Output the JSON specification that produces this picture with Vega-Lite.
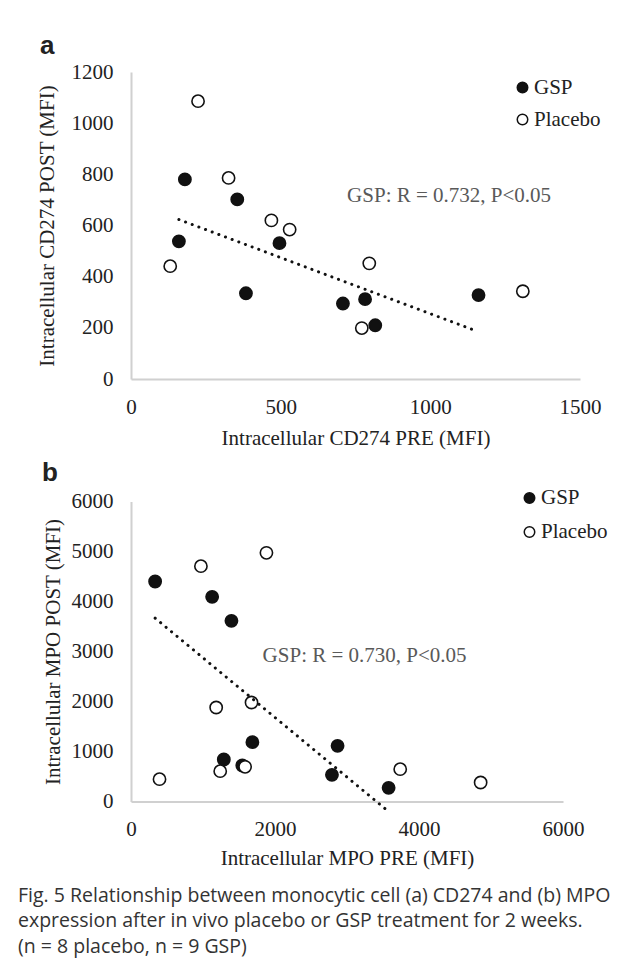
{
  "$schema": "https://vega.github.io/schema/vega-lite/v6.json",
  "background": "white",
  "padding": {"left": 18, "top": 32, "right": 0, "bottom": 10},
  "autosize": {"type": "pad"},
  "datasets": {
    "cd274": [
      {"group": "GSP", "pre": 180, "post": 780},
      {"group": "GSP", "pre": 355, "post": 702},
      {"group": "GSP", "pre": 160, "post": 538},
      {"group": "GSP", "pre": 496, "post": 531},
      {"group": "GSP", "pre": 384, "post": 335},
      {"group": "GSP", "pre": 708, "post": 295},
      {"group": "GSP", "pre": 782, "post": 312},
      {"group": "GSP", "pre": 816, "post": 210},
      {"group": "GSP", "pre": 1161, "post": 328},
      {"group": "Placebo", "pre": 224, "post": 1086},
      {"group": "Placebo", "pre": 326, "post": 786},
      {"group": "Placebo", "pre": 469, "post": 620},
      {"group": "Placebo", "pre": 530, "post": 584},
      {"group": "Placebo", "pre": 131, "post": 441},
      {"group": "Placebo", "pre": 796, "post": 452},
      {"group": "Placebo", "pre": 771, "post": 199},
      {"group": "Placebo", "pre": 1309, "post": 343}
    ],
    "mpo": [
      {"group": "GSP", "pre": 335, "post": 4400},
      {"group": "GSP", "pre": 1127, "post": 4093},
      {"group": "GSP", "pre": 1395, "post": 3613},
      {"group": "GSP", "pre": 1686, "post": 1187},
      {"group": "GSP", "pre": 1289, "post": 840},
      {"group": "GSP", "pre": 1546, "post": 720},
      {"group": "GSP", "pre": 2869, "post": 1113},
      {"group": "GSP", "pre": 2791, "post": 533},
      {"group": "GSP", "pre": 3578, "post": 273},
      {"group": "Placebo", "pre": 971, "post": 4707},
      {"group": "Placebo", "pre": 1881, "post": 4973},
      {"group": "Placebo", "pre": 1183, "post": 1880},
      {"group": "Placebo", "pre": 1674, "post": 1980},
      {"group": "Placebo", "pre": 396, "post": 447},
      {"group": "Placebo", "pre": 1239, "post": 607},
      {"group": "Placebo", "pre": 1585, "post": 693},
      {"group": "Placebo", "pre": 3739, "post": 647},
      {"group": "Placebo", "pre": 4856, "post": 380}
    ]
  },
  "config": {
    "view": {"stroke": null},
    "axis": {
      "domainColor": "#d0d0d0", "domainWidth": 2, "ticks": false, "grid": false,
      "labelFont": "Liberation Serif", "labelFontSize": 21, "labelColor": "#222",
      "titleFont": "Liberation Serif", "titleFontSize": 21, "titleFontWeight": "normal", "titleColor": "#222",
      "labelFlush": false, "labelOverlap": false, "format": "d"
    },
    "legend": {
      "labelFont": "Liberation Serif", "labelFontSize": 21, "labelColor": "#222",
      "symbolType": "circle", "symbolSize": 110, "symbolStrokeColor": "#111", "symbolStrokeWidth": 1.5,
      "symbolOpacity": 1, "labelOffset": 1
    }
  },
  "title": {
    "text": [
      "Fig. 5 Relationship between monocytic cell (a) CD274 and (b) MPO",
      "expression after in vivo placebo or GSP treatment for 2 weeks.",
      "(n = 8 placebo, n = 9 GSP)"
    ],
    "orient": "bottom", "anchor": "start", "frame": "bounds",
    "font": "Open Sans", "fontSize": 19.5, "fontWeight": "normal", "color": "#333",
    "lineHeight": 25.5, "offset": 18, "dx": -18
  },
  "resolve": {"scale": {"fill": "independent"}, "legend": {"fill": "independent"}},
  "spacing": 11.5,
  "vconcat": [
    {
      "width": 449, "height": 307,
      "title": {"text": "a", "anchor": "start", "frame": "bounds", "font": "Liberation Sans", "fontSize": 26, "fontWeight": "bold", "color": "#222", "offset": 2.5, "dx": 4},
      "data": {"name": "cd274"},
      "layer": [
        {
          "mark": {"type": "circle", "size": 150, "stroke": "#111", "strokeWidth": 1.6, "opacity": 1},
          "encoding": {
            "x": {"field": "pre", "type": "quantitative", "scale": {"domain": [0, 1500], "nice": false},
              "axis": {"values": [0, 500, 1000, 1500], "title": "Intracellular CD274 PRE (MFI)", "labelPadding": 17, "titlePadding": 10}},
            "y": {"field": "post", "type": "quantitative", "scale": {"domain": [0, 1200], "nice": false},
              "axis": {"values": [0, 200, 400, 600, 800, 1000, 1200], "title": "Intracellular CD274  POST (MFI)", "labelPadding": 18, "titlePadding": 14}},
            "fill": {"field": "group", "type": "nominal", "scale": {"domain": ["GSP", "Placebo"], "range": ["#111111", "#ffffff"]},
              "legend": {"title": null, "orient": "none", "legendX": 381, "legendY": 5, "rowPadding": 10}}
          }
        },
        {
          "transform": [{"filter": "datum.group === 'GSP'"}, {"regression": "post", "on": "pre", "extent": [160, 1140]}],
          "mark": {"type": "line", "stroke": "#111", "strokeWidth": 3, "strokeDash": [0.1, 7], "strokeCap": "round"},
          "encoding": {
            "x": {"field": "pre", "type": "quantitative"},
            "y": {"field": "post", "type": "quantitative"}
          }
        },
        {
          "data": {"values": [{"pre": 722, "post": 715, "label": "GSP: R = 0.732, P<0.05"}]},
          "mark": {"type": "text", "align": "left", "baseline": "middle", "font": "Liberation Serif", "fontSize": 21, "color": "#595959"},
          "encoding": {
            "x": {"field": "pre", "type": "quantitative"},
            "y": {"field": "post", "type": "quantitative"},
            "text": {"field": "label"}
          }
        }
      ]
    },
    {
      "width": 432, "height": 300,
      "title": {"text": "b", "anchor": "start", "frame": "bounds", "font": "Liberation Sans", "fontSize": 26, "fontWeight": "bold", "color": "#222", "offset": 2, "dx": 0},
      "data": {"name": "mpo"},
      "layer": [
        {
          "mark": {"type": "circle", "size": 150, "stroke": "#111", "strokeWidth": 1.6, "opacity": 1},
          "encoding": {
            "x": {"field": "pre", "type": "quantitative", "scale": {"domain": [0, 6000], "nice": false},
              "axis": {"values": [0, 2000, 4000, 6000], "title": "Intracellular MPO PRE (MFI)", "labelPadding": 17, "titlePadding": 8}},
            "y": {"field": "post", "type": "quantitative", "scale": {"domain": [0, 6000], "nice": false},
              "axis": {"values": [0, 1000, 2000, 3000, 4000, 5000, 6000], "title": "Intracellular MPO  POST (MFI)", "labelPadding": 18, "titlePadding": 8}},
            "fill": {"field": "group", "type": "nominal", "scale": {"domain": ["GSP", "Placebo"], "range": ["#111111", "#ffffff"]},
              "legend": {"title": null, "orient": "none", "legendX": 388, "legendY": -14, "rowPadding": 12}}
          }
        },
        {
          "transform": [{"filter": "datum.group === 'GSP'"}, {"regression": "post", "on": "pre", "extent": [335, 3530]}],
          "mark": {"type": "line", "stroke": "#111", "strokeWidth": 3, "strokeDash": [0.1, 7], "strokeCap": "round"},
          "encoding": {
            "x": {"field": "pre", "type": "quantitative"},
            "y": {"field": "post", "type": "quantitative"}
          }
        },
        {
          "data": {"values": [{"pre": 1828, "post": 2920, "label": "GSP: R = 0.730, P<0.05"}]},
          "mark": {"type": "text", "align": "left", "baseline": "middle", "font": "Liberation Serif", "fontSize": 21, "color": "#595959"},
          "encoding": {
            "x": {"field": "pre", "type": "quantitative"},
            "y": {"field": "post", "type": "quantitative"},
            "text": {"field": "label"}
          }
        }
      ]
    }
  ]
}
